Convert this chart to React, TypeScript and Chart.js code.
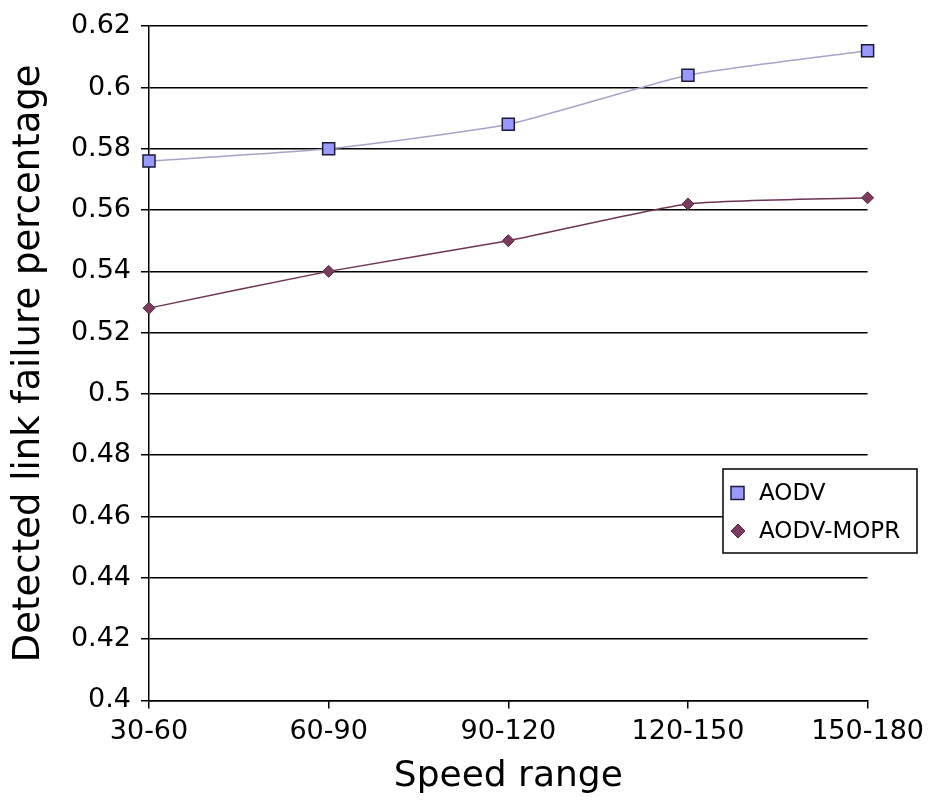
import React, { useEffect, useRef } from "react";
import { Chart, registerables } from "chart.js";

Chart.register(...registerables);

const categories = ["30-60", "60-90", "90-120", "120-150", "150-180"];
const aodv = [0.576, 0.58, 0.588, 0.604, 0.612];
const aodvMopr = [0.528, 0.54, 0.55, 0.562, 0.564];
const seriesNames = ["AODV", "AODV-MOPR"];
const yMin = 0.4;
const yMax = 0.62;
const yStep = 0.02;
const xTitle = "Speed range";
const yTitle = "Detected link failure percentage";

const FONT = "'DejaVu Sans', sans-serif";

const legendPlugin = {
  id: "boxLegend",
  afterDraw(chart: any) {
    const ctx = chart.ctx;
    const x = 723, y = 469, w = 194, h = 84;
    ctx.save();
    ctx.fillStyle = "#ffffff";
    ctx.fillRect(x, y, w, h);
    ctx.strokeStyle = "#000000";
    ctx.lineWidth = 1.5;
    ctx.strokeRect(x, y, w, h);
    const items = chart.data.datasets;
    const rows = [493, 531];
    items.forEach((ds: any, i: number) => {
      const cy = rows[i];
      ctx.fillStyle = ds.pointBackgroundColor;
      ctx.strokeStyle = ds.pointBorderColor;
      ctx.lineWidth = ds.pointBorderWidth;
      if (ds.pointStyle === "rect") {
        ctx.fillRect(731, cy - 6.5, 13, 13);
        ctx.strokeRect(731, cy - 6.5, 13, 13);
      } else {
        ctx.beginPath();
        ctx.moveTo(738, cy - 7);
        ctx.lineTo(745, cy);
        ctx.lineTo(738, cy + 7);
        ctx.lineTo(731, cy);
        ctx.closePath();
        ctx.fill();
        ctx.stroke();
      }
      ctx.fillStyle = "#000000";
      ctx.font = "23px " + FONT;
      ctx.textBaseline = "middle";
      ctx.textAlign = "left";
      ctx.fillText(ds.label, 759, cy + 1);
    });
    ctx.restore();
  },
};

export default function App() {
  const ref = useRef<HTMLCanvasElement>(null);
  useEffect(() => {
    document.body.style.margin = "0";
    const chart = new Chart(ref.current!, {
      type: "line",
      data: {
        labels: categories,
        datasets: [
          {
            label: seriesNames[0],
            data: aodv,
            borderColor: "#a5a5c8",
            borderWidth: 1.5,
            pointStyle: "rect",
            pointRadius: 8.5,
            pointBackgroundColor: "#9999ff",
            pointBorderColor: "#1a1a3a",
            pointBorderWidth: 1.5,
            tension: 0.18,
          },
          {
            label: seriesNames[1],
            data: aodvMopr,
            borderColor: "#6e3454",
            borderWidth: 1.5,
            pointStyle: "rectRot",
            pointRadius: 6,
            pointBackgroundColor: "#7a3b5c",
            pointBorderColor: "#5a2a44",
            pointBorderWidth: 1,
            tension: 0.18,
          },
        ],
      },
      options: {
        animation: false,
        responsive: false,
        layout: { padding: { top: 16, right: 58, bottom: 4, left: 0 } },
        plugins: {
          legend: { display: false },
          tooltip: { enabled: false },
        },
        scales: {
          x: {
            offset: false,
            grid: {
              display: true,
              drawOnChartArea: false,
              drawTicks: true,
              tickLength: 8,
              color: "#000000",
              lineWidth: 1.5,
            },
            border: { color: "#000000", width: 1.5 },
            ticks: { color: "#000000", font: { family: FONT, size: 27 }, padding: 7, maxRotation: 0 },
            title: {
              display: true,
              text: xTitle,
              color: "#000000",
              font: { family: FONT, size: 36 },
              padding: { top: 0, bottom: 0 },
            },
          },
          y: {
            min: yMin,
            max: yMax,
            afterFit: (scale: any) => {
              scale.width = 149;
            },
            grid: {
              color: "#000000",
              lineWidth: 1.5,
              tickLength: 8,
            },
            border: { color: "#000000", width: 1.5 },
            ticks: {
              stepSize: yStep,
              color: "#000000",
              font: { family: FONT, size: 27 },
              padding: 10,
              callback: (v: any) => String(Math.round(Number(v) * 100) / 100),
            },
            title: {
              display: true,
              text: yTitle,
              color: "#000000",
              font: { family: FONT, size: 37 },
              padding: { top: 7, bottom: 0 },
            },
          },
        },
      },
      plugins: [legendPlugin],
    });
    return () => chart.destroy();
  }, []);
  return <canvas ref={ref} width={931} height={802} />;
}
